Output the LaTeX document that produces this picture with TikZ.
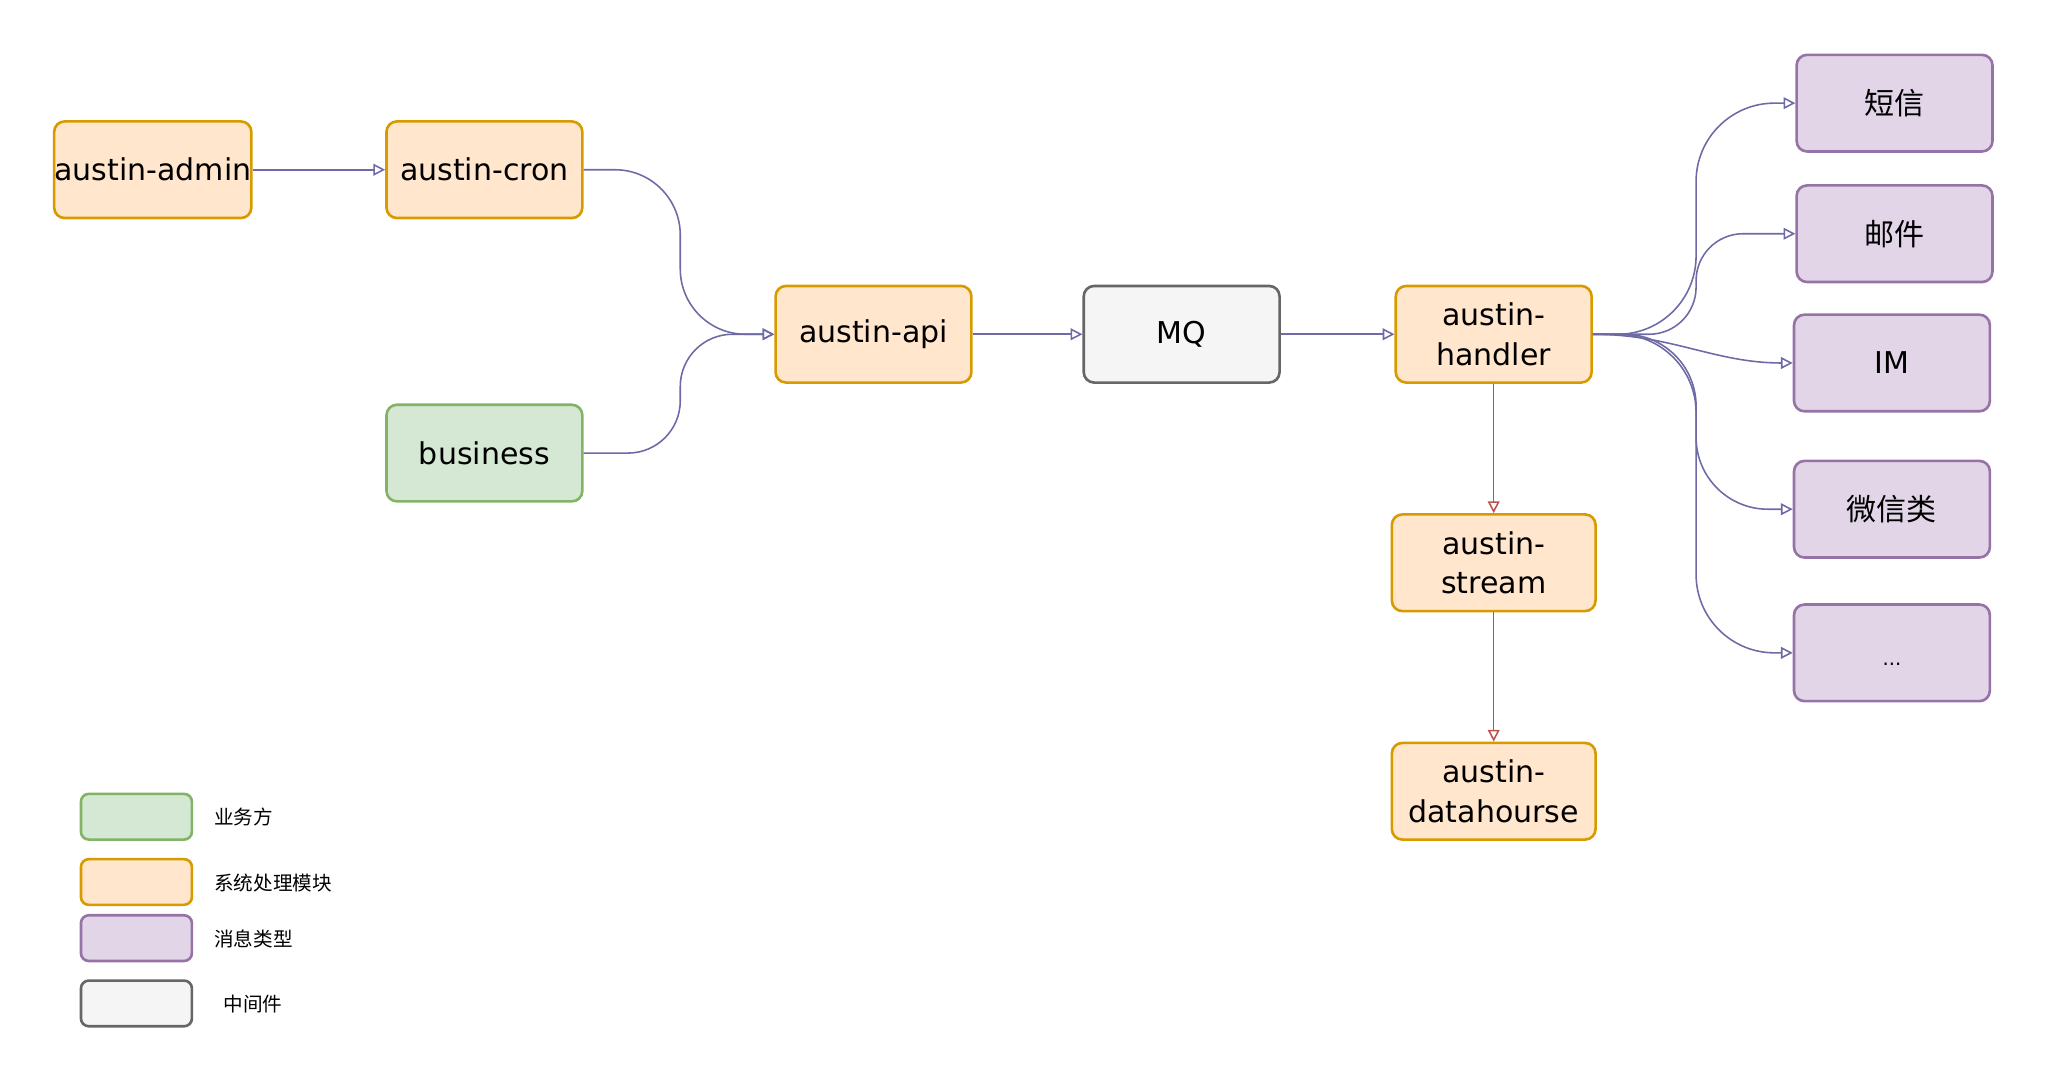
\documentclass[tikz,border=0pt]{standalone}
\usepackage{fontspec}
\setmainfont{DejaVu Sans}
\newfontfamily\cjk{Noto Sans CJK SC}
\usetikzlibrary{arrows.meta}

\definecolor{sysfill}{HTML}{FFE6CC}
\definecolor{sysdraw}{HTML}{D79B00}
\definecolor{bizfill}{HTML}{D5E8D4}
\definecolor{bizdraw}{HTML}{82B366}
\definecolor{msgfill}{HTML}{E1D5E7}
\definecolor{msgdraw}{HTML}{9673A6}
\definecolor{midfill}{HTML}{F5F5F5}
\definecolor{middraw}{HTML}{666666}
\definecolor{flowcol}{HTML}{6E6AA6}
\definecolor{sinkcol}{HTML}{B85450}

\begin{document}
\begin{tikzpicture}[x=1pt, y=-1pt]
\tikzset{ >={Triangle[open,length=9pt,width=9pt]},
  box/.style={rounded corners=8pt, line width=2pt, minimum width=150pt, minimum height=74pt,
    inner sep=0pt, align=center, font=\fontsize{23}{30}\selectfont},
  sys/.style={box, fill=sysfill, draw=sysdraw},
  biz/.style={box, fill=bizfill, draw=bizdraw},
  msg/.style={box, fill=msgfill, draw=msgdraw},
  mid/.style={box, fill=midfill, draw=middraw},
  flow/.style={->, draw=flowcol, line width=1.2pt},
  sink/.style={->, draw=sinkcol, line width=1.2pt},
  key/.style={rounded corners=6pt, line width=2pt, minimum width=85pt, minimum height=35pt, inner sep=0pt},
  keytext/.style={anchor=west, inner sep=0pt, font=\cjk\fontsize{15}{17}\selectfont},
}

\useasboundingbox (0,0) rectangle (1567,827.2);
%\draw [lightgray, dashed] (0,0) grid[step=100pt] (1567,827.2);

% system modules
\node [sys] (admin)   at (117,130)  {austin-admin};
\node [sys] (cron)    at (371,130)  {austin-cron};
\node [biz] (biz)     at (371,347)  {business};
\node [sys] (api)     at (669,256)  {austin-api};
\node [mid] (mq)      at (905,256)  {MQ};
\node [sys] (handler) at (1144,256) {austin-\\handler};
\node [sys, minimum width=156pt] (stream) at (1144,431) {austin-\\stream};
\node [sys, minimum width=156pt] (dh)     at (1144,606) {austin-\\datahourse};

% message types
\node [msg] (sms)  at (1451,79)  {\cjk 短信};
\node [msg] (mail) at (1451,179) {\cjk 邮件};
\node [msg] (im)   at (1449,278) {IM};
\node [msg] (wx)   at (1449,390) {\cjk 微信类};
\node [msg, text height=20pt, text depth=0pt] (more) at (1449,500) {\fontsize{15}{17}\selectfont ...};

\draw [flow] (admin) -- (cron);
\draw [flow, rounded corners=50pt] (cron.east) -- ++(74,0) |- (api.west);
\draw [flow, rounded corners=40pt] (biz.east)  -- ++(74,0) |- (api.west);
\draw [flow] (api) -- (mq);
\draw [flow] (mq)  -- (handler);

\draw [flow, rounded corners=60pt] (handler.east) -- ++(79,0) |- (sms.west);
\draw [flow, rounded corners=36pt] (handler.east) -- ++(79,0) |- (mail.west);
\draw [flow] (handler.east) .. controls +(60,0) and +(-60,0) .. (im.west);
\draw [flow, rounded corners=55pt] (handler.east) -- ++(79,0) |- (wx.west);
\draw [flow, rounded corners=60pt] (handler.east) -- ++(79,0) |- (more.west);

\draw [sink] (handler) -- (stream);
\draw [sink] (stream)  -- (dh);

% legend
\node [key, fill=bizfill, draw=bizdraw] (k1) at (104.5,625.5) {};
\node [key, fill=sysfill, draw=sysdraw] (k2) at (104.5,675.5) {};
\node [key, fill=msgfill, draw=msgdraw] (k3) at (104.5,718.5) {};
\node [key, fill=midfill, draw=middraw] (k4) at (104.5,768.5) {};
\node [keytext] (t1) at (164,626) {业务方};
\node [keytext] (t2) at (164,676) {系统处理模块};
\node [keytext] (t3) at (164,719) {消息类型};
\node [keytext] (t4) at (171,769) {中间件};

\end{tikzpicture}
\end{document}
